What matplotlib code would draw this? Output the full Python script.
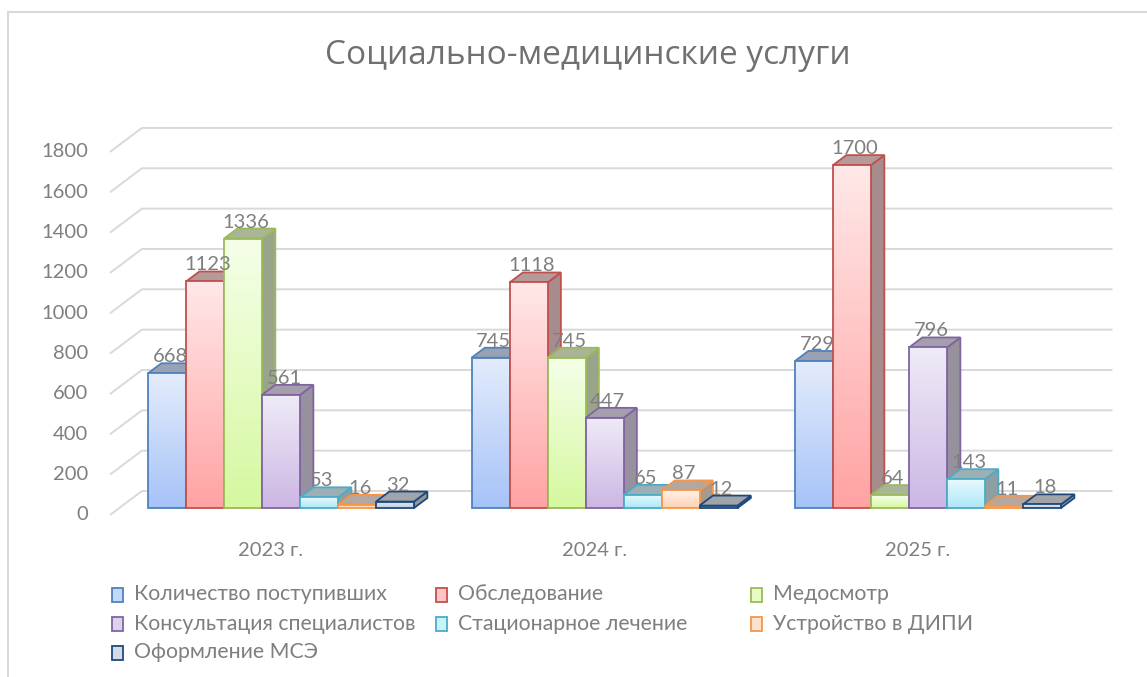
import numpy as np
import matplotlib
matplotlib.use('Agg')
import matplotlib.pyplot as plt
from matplotlib.patches import Polygon, Rectangle
import matplotlib.colors as mc
from matplotlib.transforms import offset_copy

# ---------------- data ----------------
years = ['2023 г.', '2024 г.', '2025 г.']
series = ['Количество поступивших', 'Обследование', 'Медосмотр',
          'Консультация специалистов', 'Стационарное лечение',
          'Устройство в ДИПИ', 'Оформление МСЭ']
vals_kol = [668, 745, 729]
vals_obs = [1123, 1118, 1700]
vals_med = [1336, 745, 64]
vals_kons = [561, 447, 796]
vals_stac = [53, 65, 143]
vals_dipi = [16, 87, 11]
vals_mse = [32, 12, 18]
yticks = list(range(0, 1801, 200))
title = 'Социально-медицинские услуги'

values = [vals_kol, vals_obs, vals_med, vals_kons, vals_stac, vals_dipi, vals_mse]

# styles: (gradient top, gradient bottom, edge)
styles = [
    ('#e4ecfc', '#a6c3f8', '#4f81bd'),
    ('#ffe8e8', '#ffa3a3', '#c0504d'),
    ('#f5ffe8', '#d6f8a0', '#9bbb59'),
    ('#efebf7', '#ccb7e4', '#8064a2'),
    ('#e8f9fd', '#ade8f8', '#4bacc6'),
    ('#fff2ea', '#fdd2b5', '#f79646'),
    ('#e2e7ef', '#c5cfdf', '#1f497d'),
]

FONT = ['Lato', 'DejaVu Sans']
TXT = '#7f7f7f'

W, H = 1147, 677
fig = plt.figure(figsize=(W / 100, H / 100), dpi=100)

# layout (pixels)
X0, CAT = 271.7, 323.5      # category 0 centre at floor front, px per category
Y0, VPX = 515.0, 0.2017     # value 0 at floor front, px per unit
L, R, T, B = 40, 1140, 80, 610
ax = fig.add_axes([L / W, 1 - B / H, (R - L) / W, (B - T) / H])
xlim = ((L - X0) / CAT, (R - X0) / CAT)
ylim = ((Y0 - B) / VPX, (Y0 - T) / VPX)
ax.axis('off')

DX, DY = 32 / CAT, 24 / VPX          # full floor depth vector
d0, d1 = 7 / 24, 17 / 24             # bar depth range
ddx, ddy = (d1 - d0) * DX, (d1 - d0) * DY
bw = 38 / CAT
ncat = len(years)
nser = len(series)

# back wall gridlines + left wall diagonals
for v in yticks:
    ax.plot([-0.5, -0.5 + DX, ncat - 0.5 + DX], [v, v + DY, v + DY],
            color='#d9d9d9', lw=1.4, zorder=1, solid_capstyle='butt')
    ax.text(-0.5, v, str(v), ha='right', va='center', fontsize=14.5, color=TXT,
            family=FONT, transform=offset_copy(ax.transData, fig, x=-22, y=0, units='dots'))

def blend(c, g, t):
    c = np.array(mc.to_rgb(c)); g = np.array(mc.to_rgb(g))
    return tuple(c * (1 - t) + g * t)

z = 2
for i in range(ncat):
    for k in range(nser):
        v = values[k][i]
        top_c, bot_c, edge = styles[k]
        xf = i - nser / 2 * bw + k * bw + d0 * DX
        yf = d0 * DY
        mid = blend(top_c, bot_c, 0.6)
        topface = blend(mid, '#7a7a7a', 0.55)
        sideface = blend(mid, '#6a6a6a', 0.6)
        side = Polygon([(xf + bw, yf), (xf + bw + ddx, yf + ddy),
                        (xf + bw + ddx, yf + v + ddy), (xf + bw, yf + v)],
                       closed=True, facecolor=sideface, edgecolor=edge, lw=1.3,
                       joinstyle='miter', zorder=z)
        ax.add_patch(side)
        top = Polygon([(xf, yf + v), (xf + bw, yf + v), (xf + bw + ddx, yf + v + ddy),
                       (xf + ddx, yf + v + ddy)], closed=True, facecolor=topface,
                      edgecolor=edge, lw=1.3, joinstyle='miter', zorder=z + 0.1)
        ax.add_patch(top)
        n = 64
        t = np.linspace(0, 1, n)[:, None]
        cb = np.array(mc.to_rgb(bot_c)); ct = np.array(mc.to_rgb(top_c))
        grad = (cb * (1 - t) + ct * t)[:, None, :]
        clip = Rectangle((xf, yf), bw, v, transform=ax.transData)
        im = ax.imshow(grad, extent=[xf, xf + bw, yf, yf + v], origin='lower',
                       aspect='auto', zorder=z + 0.2, interpolation='bilinear')
        im.set_clip_path(clip)
        ax.add_patch(Rectangle((xf, yf), bw, v, facecolor='none', edgecolor=edge,
                               lw=1.3, joinstyle='miter', zorder=z + 0.3))
        z += 1
        ax.text(xf + bw / 2 + 3 / CAT, yf + v + ddy + 1 / VPX, str(v), ha='center',
                va='baseline', fontsize=14.5, color=TXT, family=FONT, zorder=1000)

for i, lab in enumerate(years):
    ax.text(i, 0, lab, ha='center', va='center', fontsize=14.5, color=TXT, family=FONT,
            transform=offset_copy(ax.transData, fig, x=-1, y=-36, units='dots'))

ax.set_xlim(*xlim)
ax.set_ylim(*ylim)

# overlay for frame, title, legend (pixel coordinates)
lax = fig.add_axes([0, 0, 1, 1], zorder=-1)
lax.set_xlim(0, W)
lax.set_ylim(H, 0)
lax.axis('off')
lax.add_patch(Rectangle((8, 12), W + 20, H + 20, facecolor='white', edgecolor='#d9d9d9', lw=1.5))

fig.text(588 / W, 1 - 55 / H, title, ha='center', va='center', fontsize=24,
         color='#707070', family=['Open Sans', 'DejaVu Sans'])

leg_cols = [112, 436, 751]
leg_rows = [594.5, 623.5, 652.5]
for k, name in enumerate(series):
    r, c = divmod(k, 3)
    x, y = leg_cols[c], leg_rows[r]
    top_c, bot_c, edge = styles[k]
    lax.add_patch(Rectangle((x, y - 7), 11, 14, facecolor=blend(top_c, bot_c, 0.5),
                            edgecolor=edge, lw=1.3))
    lax.text(x + 22, y, name, ha='left', va='center', fontsize=15.3, color=TXT, family=FONT)

fig.savefig('out.png', dpi=100)
